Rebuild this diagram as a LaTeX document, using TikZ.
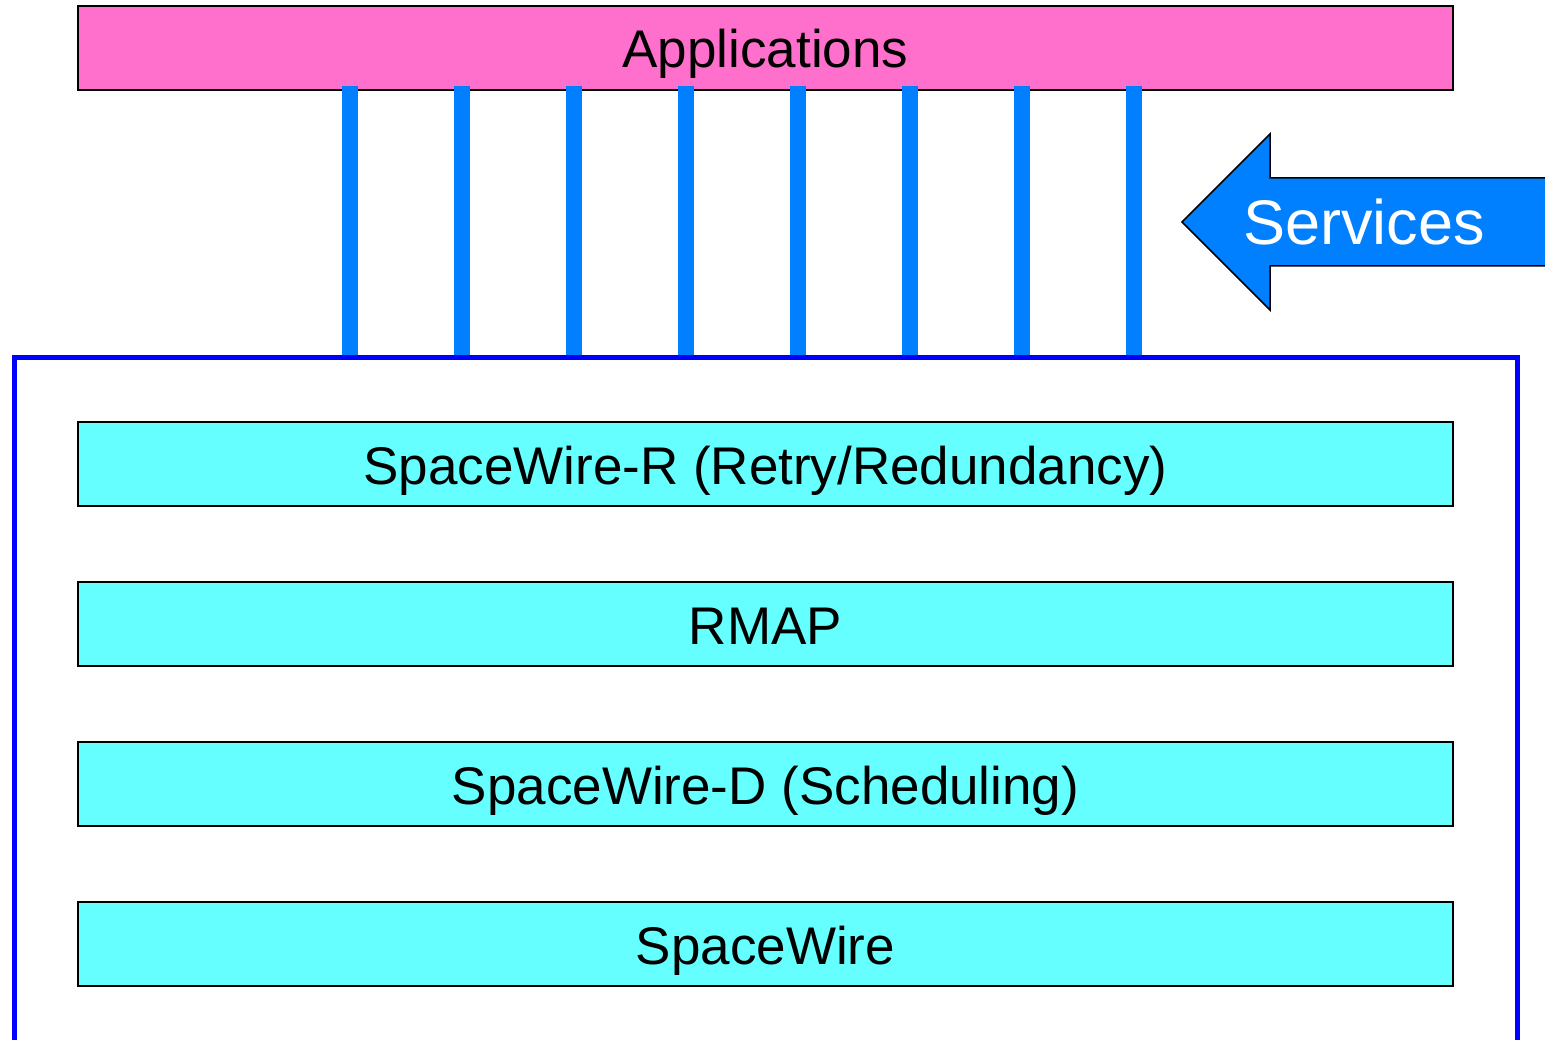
\documentclass[tikz,border=0pt]{standalone}
\usepackage{fontspec}
\setmainfont{Liberation Sans}
\definecolor{appcol}{HTML}{FF70CC}
\definecolor{layercol}{HTML}{66FFFF}
\definecolor{svccol}{HTML}{0080FF}
\definecolor{framecol}{HTML}{0000FF}
\tikzset{
  layer/.style={draw=black, line width=1.5pt, fill=layercol, minimum width=1375pt, minimum height=84pt, inner sep=0pt, text height=40pt, text depth=0pt, font=\fontsize{53}{60}\selectfont},
  svcline/.style={draw=svccol, line width=16pt},
  framel/.style={draw=framecol, line width=5pt},
}
\begin{document}
\begin{tikzpicture}[x=1pt,y=-1pt]
\useasboundingbox (0,0) rectangle (1545,1040);
\clip (0,0) rectangle (1545,1040);
\node[layer, fill=appcol] (app) at (765.5,48) {Applications};
\node[layer] (swr) at (765.5,464) {SpaceWire-R (Retry/Redundancy)};
\node[layer] (rmap) at (765.5,624) {RMAP};
\node[layer] (swd) at (765.5,784) {SpaceWire-D (Scheduling)};
\node[layer] (sw) at (765.5,944) {SpaceWire};
% open frame
\coordinate (fbl) at (14,1060);
\coordinate (ftl) at (14,357.5);
\coordinate (ftr) at (1517.5,357.5);
\coordinate (fbr) at (1517.5,1060);
\draw[framel] (fbl) -- (ftl) -- (ftr) -- (fbr);
% service lines
\foreach \i/\xx in {1/350,2/462,3/574,4/686,5/798,6/910,7/1022,8/1134}{
  \coordinate (s\i) at (\xx,86);
  \coordinate (e\i) at (\xx,355);
  \draw[svcline] (s\i) -- (e\i);
}
% services arrow
\draw[fill=svccol, draw=black, line width=1.5pt]
  (1560,178) -- (1270,178) -- (1270,134) -- (1182,222) -- (1270,310) -- (1270,266) -- (1560,266) -- cycle;
\node[text=white, font=\fontsize{63}{70}\selectfont, text height=44pt, text depth=0pt, inner sep=0pt] (svc) at (1364,223) {Services};
\end{tikzpicture}
\end{document}
